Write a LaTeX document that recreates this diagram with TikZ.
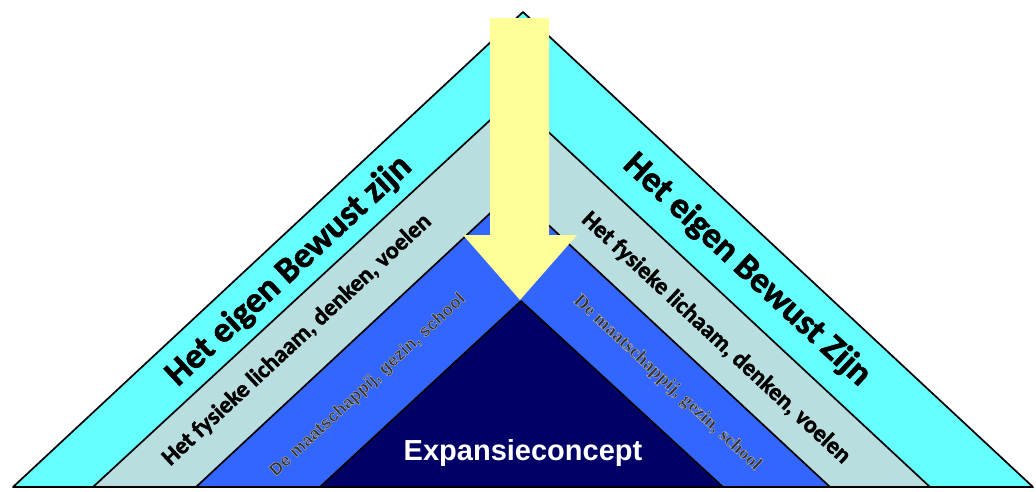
\documentclass[tikz,border=0pt]{standalone}
\usepackage{fontspec}
\setmainfont{Carlito}
\newfontfamily\arialf{Liberation Sans}
\newfontfamily\timesf{Liberation Serif}
\definecolor{cyanband}{RGB}{102,255,255}
\definecolor{lbband}{RGB}{185,222,224}
\definecolor{blueband}{RGB}{51,102,255}
\definecolor{navyband}{RGB}{0,0,102}
\definecolor{arrowyellow}{RGB}{255,255,153}
\definecolor{graytext}{RGB}{50,50,50}
\newcommand{\halotext}[1]{\special{pdf:literal direct 0.7 G 0.4 w 2 Tr}#1\special{pdf:literal direct 0 Tr}}
\newcommand{\heavytext}[2]{\special{pdf:literal direct 0 G #1 w 2 Tr}#2\special{pdf:literal direct 0 Tr}}
\begin{document}
\begin{tikzpicture}[x=1pt,y=-1pt,
  band/.style={draw=black,line width=1.7pt,line join=round},
  bigtxt/.style={font=\bfseries\fontsize{36}{36}\selectfont,inner sep=0pt},
  midtxt/.style={font=\bfseries\fontsize{24}{24}\selectfont,inner sep=0pt},
  smalltxtL/.style={font=\arialf\bfseries\fontsize{17.5}{17.5}\selectfont,text=graytext,inner sep=0pt},
  smalltxtR/.style={font=\timesf\bfseries\fontsize{19}{19}\selectfont,text=graytext,inner sep=0pt},
  coretxt/.style={font=\arialf\bfseries\fontsize{29}{29}\selectfont,text=white,inner sep=0pt}]
\useasboundingbox (0,0) rectangle (1036,491);
\fill[white] (0,0) rectangle (1036,491);
\draw[band,fill=cyanband] (523,12) -- (1033,487) -- (13,487) -- cycle;
\draw[band,fill=lbband] (513,99) -- (930,487) -- (93,487) -- cycle;
\draw[band,fill=blueband] (513,192) -- (830,487) -- (196,487) -- cycle;
\draw[band,fill=navyband] (521,301) -- (723,487) -- (320,487) -- cycle;
\fill[arrowyellow] (490,18) -- (549,18) -- (549,235) -- (577,235) -- (520,300) -- (463,235) -- (490,235) -- cycle;
\node[bigtxt,rotate=42.9] (cL) at (289,271) {\heavytext{0.6}{Het eigen Bewust zijn}};
\node[bigtxt,rotate=-42.9] (cR) at (747,270) {\heavytext{0.6}{Het eigen Bewust Zijn}};
\node[midtxt,rotate=42.9] (lL) at (297,340) {\heavytext{0.4}{Het fysieke lichaam, denken, voelen}};
\node[midtxt,rotate=-42.9] (lR) at (716,338) {\heavytext{0.4}{Het fysieke lichaam, denken, voelen}};
\node[smalltxtL,rotate=42.9] (bL) at (368,385) {\halotext{De maatschappij, gezin, school}};
\node[smalltxtR,rotate=-42.9] (bR) at (667,383) {\halotext{De maatschappij, gezin, school}};
\node[coretxt,anchor=base] (core) at (523,460) {Expansieconcept};
\end{tikzpicture}
\end{document}
